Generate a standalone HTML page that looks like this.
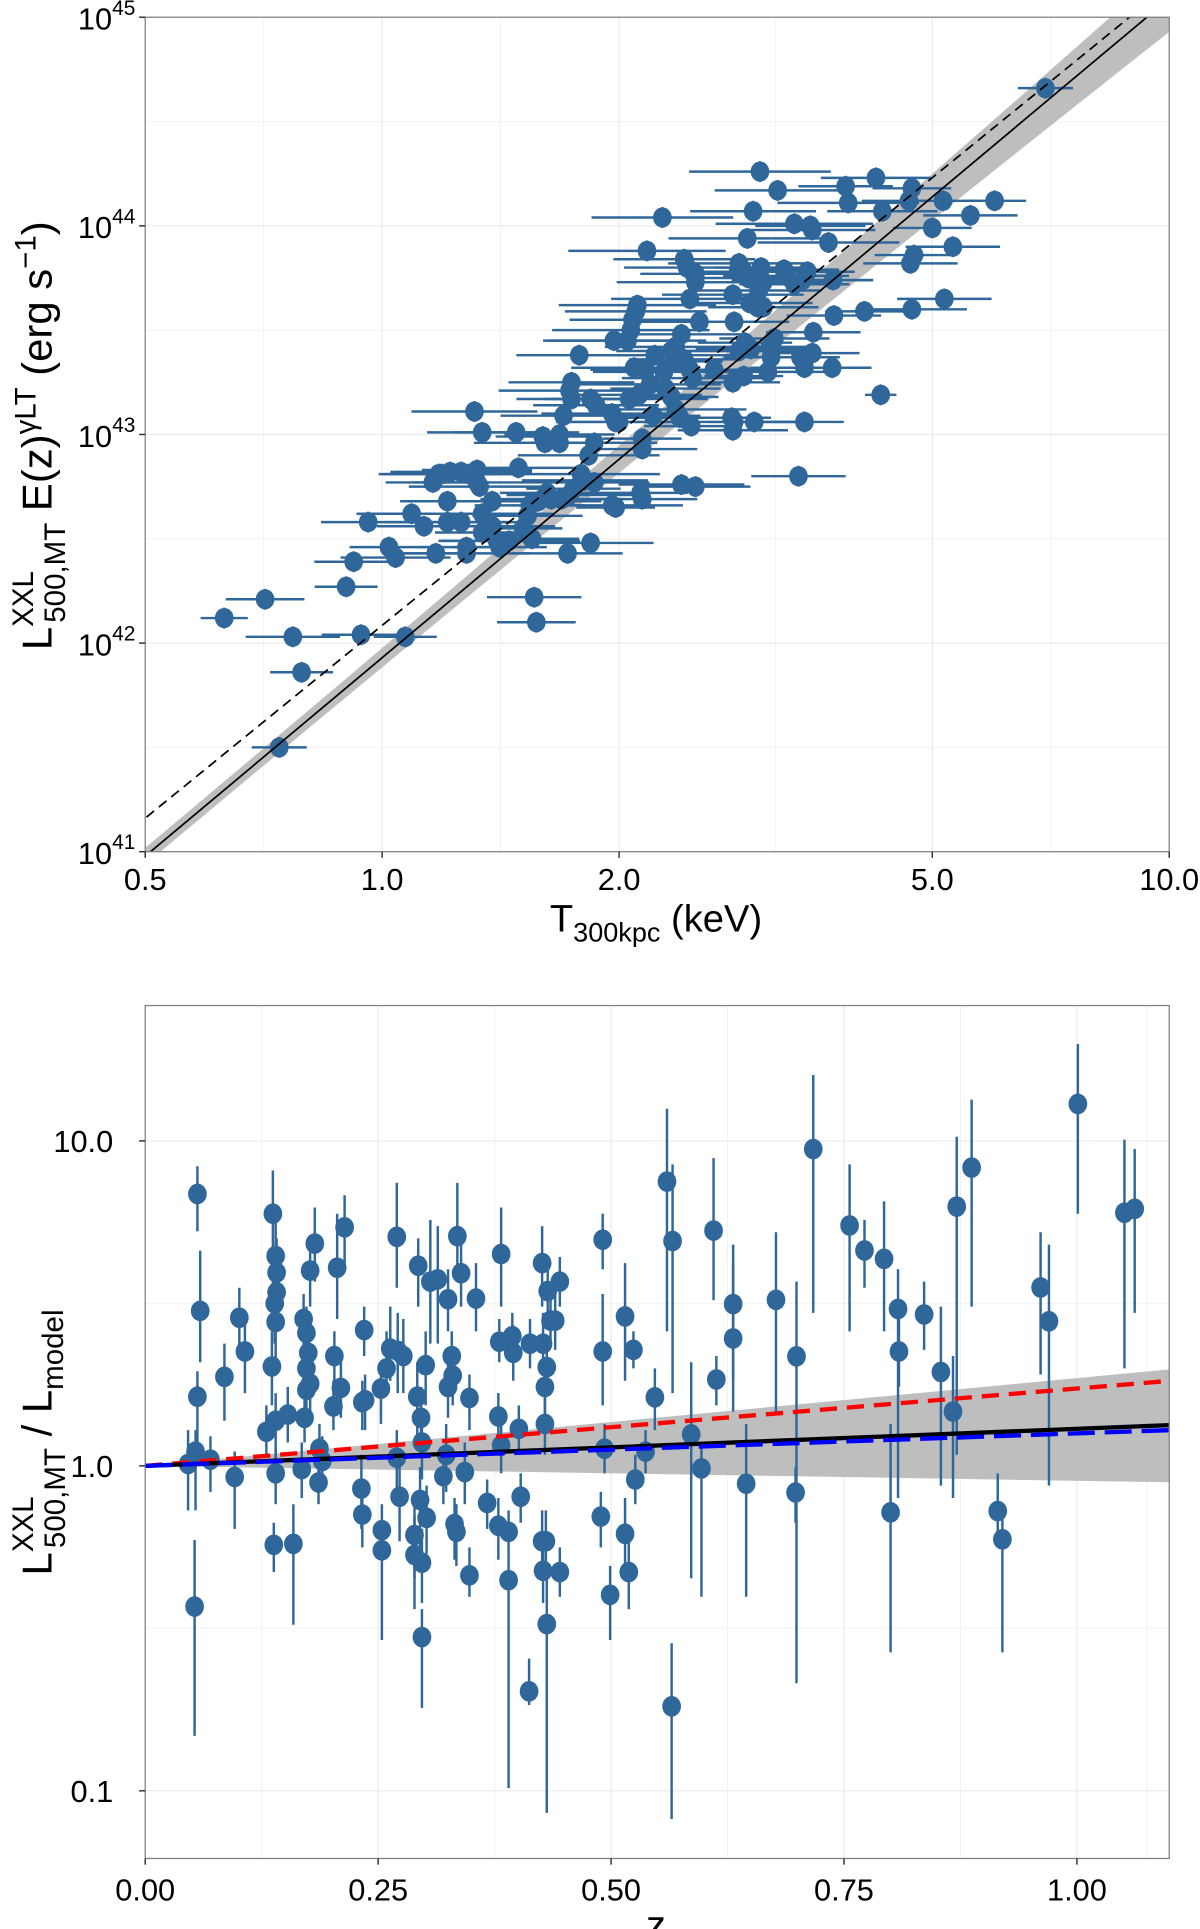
<!DOCTYPE html>
<html><head><meta charset="utf-8"><title>LT relation and residuals</title>
<style>
html,body{margin:0;padding:0;background:#fff;}
svg{display:block;font-family:"Liberation Sans",sans-serif;}
</style></head>
<body>
<svg id="fig" width="1200" height="1929" viewBox="0 0 975 1567.3" preserveAspectRatio="none" xmlns="http://www.w3.org/2000/svg">
<defs>
<clipPath id="clipTop"><rect x="118" y="14" width="832" height="678"/></clipPath>
<clipPath id="clipBot"><rect x="118" y="817" width="832" height="693"/></clipPath>
</defs>
<g id="top">
<rect x="118" y="14" width="832" height="678" fill="#fff"/>
<g id="topGrid"></g>
<g id="topBand" clip-path="url(#clipTop)"></g>
<g id="topPts" clip-path="url(#clipTop)"></g>
<g id="topLines" clip-path="url(#clipTop)"></g>
<rect x="118" y="14" width="832" height="678" fill="none" stroke="#7f7f7f" stroke-width="1"/>
<g id="topAxes"></g>
<text x="533" y="757" text-anchor="middle" font-size="31">T<tspan font-size="22" dy="8">300kpc</tspan><tspan dy="-8">  (keV)</tspan></text>
<text transform="translate(42,354) rotate(-90)" text-anchor="middle" font-size="34">L<tspan font-size="24" dy="-15">XXL</tspan><tspan font-size="24" dx="-42" dy="26">500,MT</tspan><tspan dy="-11"> E(z)</tspan><tspan font-size="24" dy="-13">γLT</tspan><tspan dy="13"> (erg s</tspan><tspan font-size="24" dy="-13">−1</tspan><tspan dy="13">)</tspan></text>
</g>
<g id="bot">
<rect x="118" y="817" width="832" height="693" fill="#fff"/>
<g id="botGrid"></g>
<g id="botBand" clip-path="url(#clipBot)"></g>
<g id="botPts" clip-path="url(#clipBot)"></g>
<g id="botLines" clip-path="url(#clipBot)"></g>
<rect x="118" y="817" width="832" height="693" fill="none" stroke="#7f7f7f" stroke-width="1"/>
<g id="botAxes"></g>
<text x="533" y="1575" text-anchor="middle" font-size="32">z</text>
<text transform="translate(42,1172) rotate(-90)" text-anchor="middle" font-size="34">L<tspan font-size="24" dy="-15">XXL</tspan><tspan font-size="24" dx="-42" dy="26">500,MT</tspan><tspan dy="-11"> / L</tspan><tspan font-size="24" dy="9">model</tspan></text>
</g>
</svg>
<script>
// ---------- TOP PANEL DATA ----------
const tempT = [6.96,3.02,4.24,3.18,3.88,3.91,4.71,4.32,4.67,5.16,6.00,5.59,2.27,2.96,3.34,3.50,2.91,3.52,5.00,3.69,
2.17,5.31,4.74,4.69,2.42,2.44,2.50,2.50,2.84,2.88,2.92,3.03,3.05,3.24,3.26,3.47,3.34,3.42,3.74,3.01,
2.93,3.05,2.79,2.46,3.00,5.18,4.71,4.10,3.75,2.10,2.11,2.08,2.07,2.53,2.80,2.05,1.97,1.78,2.40,2.36,
2.33,2.22,2.89,2.84,2.94,3.11,3.12,3.15,3.40,3.52,3.44,3.73,3.53,2.09,2.16,2.28,2.36,2.42,2.46,2.19,
2.12,2.06,2.29,2.33,2.48,2.64,2.79,2.88,3.09,4.30,1.74,1.73,1.74,1.84,1.87,1.96,1.98,2.00,2.21,2.36,
2.39,2.47,2.78,2.80,2.97,2.79,3.44,1.31,1.34,1.48,1.60,1.61,1.68,1.70,1.68,2.14,2.14,1.86,1.83,1.79,
1.81,1.86,1.96,2.13,2.14,2.50,2.40,3.38,1.49,1.18,1.16,1.19,1.22,1.26,1.29,1.32,1.32,1.21,1.33,1.38,
1.54,1.58,1.62,1.64,1.69,1.73,1.75,1.98,1.09,1.13,1.21,1.26,1.34,1.34,1.38,1.40,1.41,1.45,1.51,1.53,
0.96,1.02,1.04,1.17,1.28,1.28,1.55,1.72,1.84,0.92,0.90,0.71,0.63,0.77,0.94,1.07,1.56,1.57,0.79,0.74];
const logLum = [44.66,44.26,44.23,44.17,44.19,44.11,44.18,44.07,44.12,44.12,44.12,44.05,44.04,44.07,44.01,44.00,43.94,43.98,43.99,43.92,
43.88,43.90,43.86,43.82,43.84,43.80,43.77,43.73,43.82,43.78,43.75,43.80,43.73,43.79,43.76,43.78,43.72,43.74,43.74,43.69,
43.63,43.61,43.67,43.65,43.61,43.65,43.60,43.59,43.57,43.59,43.62,43.55,43.50,43.54,43.54,43.45,43.45,43.38,43.48,43.42,
43.40,43.38,43.44,43.40,43.41,43.42,43.37,43.46,43.37,43.39,43.32,43.32,43.49,43.32,43.31,43.30,43.35,43.36,43.31,43.24,
43.19,43.17,43.22,43.18,43.27,43.31,43.25,43.28,43.30,43.19,43.25,43.21,43.17,43.17,43.14,43.10,43.06,43.06,43.09,43.12,
43.08,43.04,43.08,43.06,43.06,43.02,43.06,43.11,43.01,43.01,42.99,42.96,43.00,43.09,42.96,42.98,42.93,42.96,42.90,42.81,
42.78,42.77,42.66,42.72,42.69,42.75,42.76,42.80,42.84,42.81,42.77,42.81,42.82,42.82,42.81,42.83,42.77,42.68,42.75,42.68,
42.66,42.68,42.72,42.69,42.69,42.71,42.74,42.65,42.62,42.56,42.58,42.58,42.62,42.53,42.56,42.49,42.46,42.49,42.55,42.61,
42.58,42.46,42.41,42.43,42.46,42.43,42.50,42.43,42.48,42.39,42.27,42.21,42.12,42.03,42.04,42.03,42.22,42.10,41.86,41.50];
// half-width of horizontal temperature error bars (dex)
const tErrDex = [0.035,0.09,0.07,0.08,0.06,0.09,0.05,0.07,0.06,0.05,0.04,0.06,0.09,0.08,0.10,0.07,0.10,0.08,0.05,0.09,
0.10,0.06,0.05,0.06,0.09,0.08,0.07,0.10,0.09,0.07,0.08,0.06,0.09,0.07,0.08,0.06,0.07,0.09,0.05,0.08,
0.08,0.07,0.09,0.10,0.06,0.06,0.07,0.05,0.06,0.09,0.10,0.08,0.10,0.09,0.07,0.10,0.09,0.08,0.08,0.09,
0.07,0.10,0.06,0.08,0.07,0.05,0.06,0.07,0.05,0.06,0.07,0.05,0.06,0.08,0.07,0.09,0.06,0.07,0.08,0.09,
0.08,0.10,0.07,0.06,0.09,0.07,0.06,0.05,0.08,0.02,0.08,0.09,0.07,0.06,0.08,0.09,0.07,0.08,0.06,0.09,
0.07,0.06,0.05,0.08,0.06,0.07,0.05,0.08,0.07,0.08,0.06,0.09,0.07,0.08,0.06,0.05,0.07,0.08,0.09,0.10,
0.08,0.07,0.09,0.06,0.07,0.07,0.08,0.06,0.08,0.07,0.06,0.08,0.07,0.09,0.06,0.07,0.08,0.06,0.09,0.08,
0.07,0.08,0.06,0.09,0.07,0.08,0.06,0.05,0.07,0.06,0.08,0.07,0.09,0.06,0.08,0.07,0.06,0.09,0.05,0.07,
0.06,0.05,0.07,0.05,0.06,0.08,0.06,0.07,0.08,0.05,0.04,0.05,0.03,0.06,0.05,0.04,0.06,0.05,0.04,0.035];
const lErrDex = 0.05;
const topXTicks = [0.5,1.0,2.0,5.0,10.0];
const topXTickLabels = ["0.5","1.0","2.0","5.0","10.0"];
const topYTicks = [41,42,43,44,45];
const topXMinor = [0.707,1.414,3.162,7.071];
// fit: log L = intercept + slope*log T
const fitSolid = [41.93, 3.16];
const fitDashed = [42.085, 3.07];
const fitBandHW = [0.04, 0.12];

// ---------- BOTTOM PANEL DATA ----------
const zVals = [0.056,0.059,0.056,0.054,0.046,0.070,0.053,0.085,0.096,0.101,0.107,0.130,0.137,0.140,0.141,0.141,0.139,0.140,0.136,0.140,
0.140,0.138,0.159,0.153,0.170,0.173,0.177,0.182,0.175,0.173,0.173,0.177,0.171,0.168,0.187,0.190,0.186,0.203,0.202,0.206,
0.210,0.214,0.235,0.233,0.236,0.232,0.233,0.254,0.254,0.253,0.259,0.263,0.271,0.270,0.277,0.270,0.273,0.293,0.292,0.296,
0.297,0.295,0.289,0.289,0.297,0.297,0.301,0.302,0.306,0.314,0.325,0.325,0.329,0.330,0.323,0.320,0.332,0.334,0.335,0.339,
0.343,0.348,0.355,0.348,0.367,0.380,0.382,0.382,0.379,0.379,0.390,0.390,0.394,0.395,0.403,0.401,0.412,0.413,0.426,0.427,
0.429,0.431,0.429,0.432,0.435,0.440,0.426,0.430,0.427,0.431,0.445,0.445,0.491,0.491,0.493,0.489,0.499,0.515,0.515,0.519,
0.524,0.526,0.547,0.560,0.566,0.565,0.537,0.586,0.597,0.610,0.613,0.631,0.631,0.645,0.677,0.699,0.698,0.717,0.756,0.772,
0.793,0.800,0.808,0.809,0.836,0.854,0.867,0.871,0.887,0.915,0.920,0.961,0.970,1.001,1.051,1.062];
const logRatio = [0.837,0.477,0.213,0.044,0.006,0.019,-0.433,0.274,-0.034,0.456,0.352,0.105,0.776,0.646,0.595,0.534,0.500,0.443,0.306,0.139,
-0.023,-0.243,-0.240,0.158,0.452,0.409,0.601,0.684,0.348,0.300,0.234,0.253,0.148,-0.010,0.053,0.015,-0.051,0.338,0.183,0.610,
0.240,0.734,0.418,0.196,0.202,-0.070,-0.150,-0.198,-0.260,0.238,0.300,0.361,0.354,0.705,0.338,0.025,-0.095,0.616,0.213,0.148,
0.072,-0.105,-0.213,-0.274,-0.298,-0.527,0.310,-0.160,0.567,0.574,0.513,0.243,0.338,0.278,0.034,-0.032,-0.179,-0.203,0.707,0.593,
-0.019,-0.337,0.515,0.209,-0.114,0.382,0.652,0.063,0.152,-0.184,-0.203,-0.352,0.399,0.348,-0.095,0.114,-0.694,0.376,0.624,0.376,
0.243,0.304,0.129,0.538,0.447,0.447,-0.232,-0.232,-0.323,-0.487,0.567,-0.327,0.696,0.352,0.053,-0.156,-0.397,0.460,-0.209,-0.327,
0.357,-0.042,0.211,0.875,0.692,-0.740,0.044,0.097,-0.008,0.724,0.266,0.498,0.392,-0.055,0.511,0.337,-0.082,0.975,0.740,0.663,
0.637,-0.143,0.483,0.352,0.466,0.289,0.167,0.798,0.918,-0.139,-0.226,0.549,0.445,1.114,0.779,0.791];
const logRatioHi = [0.922,0.662,0.291,0.110,0.110,0.091,-0.228,0.376,0.044,0.548,0.433,0.186,0.909,0.757,0.700,0.643,0.605,0.567,0.414,0.224,
0.053,-0.175,-0.118,0.243,0.529,0.490,0.700,0.795,0.433,0.395,0.319,0.338,0.224,0.072,0.129,0.091,0.034,0.414,0.262,0.776,
0.319,0.833,0.490,0.262,0.281,0.034,-0.061,-0.118,-0.175,0.319,0.414,0.490,0.471,0.871,0.452,0.110,-0.004,0.700,0.319,0.243,
0.167,-0.004,-0.118,-0.156,-0.194,-0.441,0.414,-0.061,0.757,0.738,0.605,0.338,0.414,0.357,0.129,0.053,-0.099,-0.118,0.871,0.681,
0.072,-0.251,0.624,0.281,-0.042,0.452,0.795,0.148,0.224,-0.099,-0.137,-0.270,0.471,0.433,-0.023,0.186,-0.593,0.452,0.738,0.471,
0.319,0.376,0.224,0.643,0.548,0.529,-0.137,-0.137,-0.232,-0.346,0.643,-0.251,0.776,0.529,0.129,-0.080,-0.308,0.624,-0.099,-0.232,
0.414,0.034,0.300,1.099,0.928,-0.546,0.110,0.319,0.072,0.947,0.338,0.681,0.624,0.129,0.719,0.567,-0.004,1.203,0.928,0.757,
0.814,0.129,0.605,0.452,0.567,0.490,0.338,1.013,1.127,-0.023,-0.118,0.719,0.681,1.298,1.004,0.975];
const logRatioLo = [0.722,0.319,0.034,-0.137,-0.137,-0.080,-0.831,0.139,-0.194,0.338,0.224,0.034,0.490,0.490,0.452,0.414,0.376,0.300,0.186,-0.004,
-0.118,-0.327,-0.489,0.072,0.357,0.319,0.490,0.567,0.243,0.205,0.129,0.167,0.072,-0.099,-0.023,-0.080,-0.118,0.224,0.110,0.452,
0.148,0.605,0.338,0.110,0.110,-0.194,-0.251,-0.270,-0.536,0.129,0.224,0.262,0.224,0.548,0.224,-0.080,-0.232,0.490,0.072,0.034,
-0.042,-0.251,-0.346,-0.441,-0.422,-0.745,0.186,-0.270,0.376,0.376,0.414,0.148,0.224,0.186,-0.080,-0.118,-0.289,-0.308,0.567,0.490,
-0.118,-0.403,0.414,0.110,-0.194,0.319,0.490,-0.023,0.072,-0.289,-0.270,-0.992,0.319,0.262,-0.175,0.034,-0.736,0.300,0.490,0.300,
0.148,0.224,0.034,0.452,0.376,0.357,-0.346,-0.346,-0.422,-1.068,0.490,-0.403,0.605,0.186,-0.023,-0.251,-0.536,0.262,-0.308,-0.441,
0.300,-0.118,0.110,0.414,0.224,-1.087,-0.023,-0.346,-0.403,0.510,0.186,0.262,0.167,-0.403,0.167,-0.669,-0.175,0.471,0.414,0.548,
0.414,-0.574,-0.099,0.243,0.357,-0.061,-0.099,0.034,0.490,-0.232,-0.574,0.281,-0.061,0.776,0.300,0.471];
const botXTicks = [0,0.25,0.5,0.75,1.0];
const botXTickLabels = ["0.00","0.25","0.50","0.75","1.00"];
const botYTicks = [1,0,-1];
const botYTickLabels = ["10.0","1.0","0.1"];
// evolution slopes in log ratio per unit z
const evoBlack = 0.114;
const evoRed = 0.238;
const evoBlue = 0.100;
const evoBandHi = 0.270;
const evoBandLo = -0.046;

// ---------- SCALES ----------
const NS = "http://www.w3.org/2000/svg";
const TX0 = 118, TX1 = 950, TY0 = 14, TY1 = 692;
const BX0 = 118, BX1 = 950, BY0 = 817, BY1 = 1510;
function xT(t){ return TX0 + (Math.log10(t) - Math.log10(0.5)) / (Math.log10(10) - Math.log10(0.5)) * (TX1 - TX0); }
function yL(l){ return TY1 - (l - 41) / 4 * (TY1 - TY0); }
function xZ(z){ return BX0 + z * 757; }
function yR(lr){ return 1191 - 264 * lr; }
function mk(tag, attrs, parent){
  const e = document.createElementNS(NS, tag);
  for (const k in attrs) e.setAttribute(k, attrs[k]);
  parent.appendChild(e);
  return e;
}
const PT = "#30679a";

// ---------- TOP GRID & AXES ----------
const tg = document.getElementById("topGrid");
topXMinor.forEach(v => { const l = mk("line",{x1:xT(v),x2:xT(v),y1:TY0,y2:TY1,stroke:"#f2f2f2","stroke-width":0.8},tg);
    });
[41.5,42.5,43.5,44.5].forEach(v => { const l = mk("line",{x1:TX0,x2:TX1,y1:yL(v),y2:yL(v),stroke:"#f2f2f2","stroke-width":0.8},tg);
    });
topXTicks.forEach(v => { const l = mk("line",{x1:xT(v),x2:xT(v),y1:TY0,y2:TY1,stroke:"#ebebeb","stroke-width":1},tg);
    });
topYTicks.forEach(v => { const l = mk("line",{x1:TX0,x2:TX1,y1:yL(v),y2:yL(v),stroke:"#ebebeb","stroke-width":1},tg);
    });
const ta = document.getElementById("topAxes");
topXTicks.forEach((v,i) => {
  const tk = mk("line",{x1:xT(v),x2:xT(v),y1:TY1,y2:TY1+5,stroke:"#333","stroke-width":1.2},ta);
   
  const t = mk("text",{x:xT(v),y:TY1+31,"text-anchor":"middle","font-size":25,fill:"#000"},ta);
  t.textContent = topXTickLabels[i];
   
});
topYTicks.forEach(v => {
  const tk = mk("line",{x1:TX0-5,x2:TX0,y1:yL(v),y2:yL(v),stroke:"#333","stroke-width":1.2},ta);
   
  const t = mk("text",{x:TX0-8,y:yL(v)+10,"text-anchor":"end","font-size":25,fill:"#000"},ta);
  const a = mk("tspan",{},t); a.textContent = "10";
  const b = mk("tspan",{"font-size":17,dy:-12}, t); b.textContent = String(v);
   
});

// ---------- TOP BAND & LINES ----------
const tb = document.getElementById("topBand");
(function(){
  const lo = Math.log10(0.45), hi = Math.log10(11);
  let up = [], dn = [];
  for (let i = 0; i <= 60; i++){
    const lt = lo + (hi - lo) * i / 60;
    const c = fitSolid[0] + fitSolid[1] * lt;
    const u = (lt + 0.301) / 1.301;
    const hw = fitBandHW[0] + fitBandHW[1] * u * u;
    up.push(xT(Math.pow(10,lt)) + "," + yL(c + hw));
    dn.push(xT(Math.pow(10,lt)) + "," + yL(c - hw));
  }
  const p = mk("polygon",{points: up.concat(dn.reverse()).join(" "), fill:"#bebebe"},tb);
   
})();
const tl = document.getElementById("topLines");
function fitLine(f, dash, name){
  const a = 0.45, b = 11;
  const l = mk("line",{x1:xT(a),y1:yL(f[0]+f[1]*Math.log10(a)),x2:xT(b),y2:yL(f[0]+f[1]*Math.log10(b)),stroke:"#000","stroke-width":1.4},tl);
  if (dash) l.setAttribute("stroke-dasharray", dash);
   
}

// ---------- TOP POINTS ----------
const tp = document.getElementById("topPts");
tempT.forEach((t,i) => {
  const g = mk("g",{},tp);
   
  const cx = xT(t), cy = yL(logLum[i]);
  const e = tErrDex[i];
  mk("line",{x1:xT(t*Math.pow(10,-e)),x2:xT(t*Math.pow(10,e)),y1:cy,y2:cy,stroke:PT,"stroke-width":2},g);
  mk("line",{x1:cx,x2:cx,y1:yL(logLum[i]-lErrDex),y2:yL(logLum[i]+lErrDex),stroke:PT,"stroke-width":2},g);
  mk("ellipse",{cx:cx,cy:cy,rx:7.6,ry:8.2,fill:PT},g);
});
fitLine(fitDashed, "8,5", 'self-similar-dashed-line');
fitLine(fitSolid, null, 'best-fit-line');

// ---------- BOTTOM GRID & AXES ----------
const bg = document.getElementById("botGrid");
[0.125,0.375,0.625,0.875,1.075].forEach(v => { const l = mk("line",{x1:xZ(v),x2:xZ(v),y1:BY0,y2:BY1,stroke:"#f2f2f2","stroke-width":0.8},bg);
    });
[0.5,-0.5].forEach(v => { const l = mk("line",{x1:BX0,x2:BX1,y1:yR(v),y2:yR(v),stroke:"#f2f2f2","stroke-width":0.8},bg);
    });
botXTicks.forEach(v => { const l = mk("line",{x1:xZ(v),x2:xZ(v),y1:BY0,y2:BY1,stroke:"#ebebeb","stroke-width":1},bg);
    });
botYTicks.forEach(v => { const l = mk("line",{x1:BX0,x2:BX1,y1:yR(v),y2:yR(v),stroke:"#ebebeb","stroke-width":1},bg);
    });
const ba = document.getElementById("botAxes");
botXTicks.forEach((v,i) => {
  const tk = mk("line",{x1:xZ(v),x2:xZ(v),y1:BY1,y2:BY1+5,stroke:"#333","stroke-width":1.2},ba);
   
  const t = mk("text",{x:xZ(v),y:BY1+34,"text-anchor":"middle","font-size":25,fill:"#000"},ba);
  t.textContent = botXTickLabels[i];
   
});
botYTicks.forEach((v,i) => {
  const tk = mk("line",{x1:BX0-5,x2:BX0,y1:yR(v),y2:yR(v),stroke:"#333","stroke-width":1.2},ba);
   
  const t = mk("text",{x:BX0-26,y:yR(v)+9,"text-anchor":"end","font-size":25,fill:"#000"},ba);
  t.textContent = botYTickLabels[i];
   
});

// ---------- BOTTOM BAND ----------
const bb = document.getElementById("botBand");
(function(){
  const zEnd = 1.1;
  const pts = [xZ(0)+","+yR(0), xZ(zEnd)+","+yR(evoBandHi*zEnd), xZ(zEnd)+","+yR(evoBandLo*zEnd)].join(" ");
  const p = mk("polygon",{points:pts, fill:"#bebebe"},bb);
   
})();

// ---------- BOTTOM POINTS ----------
const bp = document.getElementById("botPts");
zVals.forEach((z,i) => {
  const g = mk("g",{},bp);
   
  const cx = xZ(z);
  mk("line",{x1:cx,x2:cx,y1:yR(logRatioHi[i]),y2:yR(logRatioLo[i]),stroke:PT,"stroke-width":2},g);
  mk("ellipse",{cx:cx,cy:yR(logRatio[i]),rx:7.6,ry:8.4,fill:PT},g);
});

// ---------- BOTTOM LINES ----------
const bl = document.getElementById("botLines");
function evoLine(s, color, dash, w, name){
  const l = mk("line",{x1:xZ(0),y1:yR(0),x2:xZ(1.1),y2:yR(s*1.1),stroke:color,"stroke-width":w},bl);
  if (dash) l.setAttribute("stroke-dasharray", dash);
   
}
evoLine(evoRed, "#ff0000", "14,8", 3.5, 'red-dashed-evolution-line');
evoLine(evoBlack, "#000000", null, 3.5, 'black-evolution-line');
evoLine(evoBlue, "#0000ff", "22,8", 3.5, 'blue-dashed-evolution-line');
</script>
</body></html>
